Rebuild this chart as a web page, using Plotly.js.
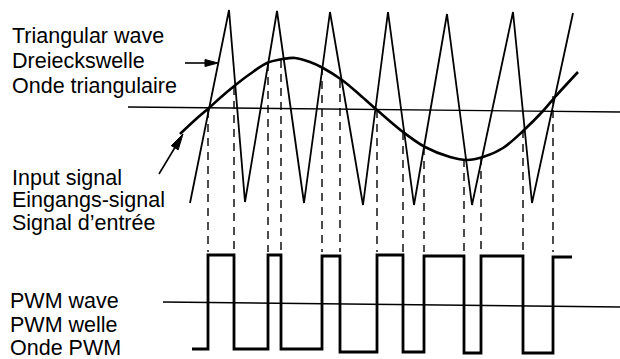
<!DOCTYPE html>
<html>
<head>
<meta charset="utf-8">
<script src="https://cdn.plot.ly/plotly-3.0.1.min.js"></script>
<style>html,body{margin:0;padding:0;background:#fff;}#chart{width:620px;height:359px;}</style>
</head>
<body>
<div id="chart"></div>
<script>
// Triangular carrier wave (vertices)
const triX = [190, 229, 245, 277, 304, 330, 363, 388, 414, 447, 472, 513, 532, 573];
const triY = [203, 10, 202, 11, 203, 12, 205, 12, 205, 14, 205, 12, 203, 13];

// Input (sine-like) signal, read point by point
const sigX = [180, 195, 209, 220, 233, 250, 267, 283, 295, 310, 323, 342, 360, 377, 403, 425, 450, 467, 483, 503, 523, 543, 555, 578];
const sigY = [134, 120, 108, 98, 87, 74, 63, 59, 58, 62, 68, 80, 95, 110, 132, 147, 157, 160, 157, 148, 131, 111, 97, 72];

// Crossing points of signal and carrier (switching instants)
const crossX = [208, 234, 268, 281, 322, 340, 377, 403, 424, 464, 481, 523, 553];
const crossY = [110, 87, 63, 60, 67, 80, 110, 132, 147, 159, 157, 130, 96];

// PWM output: start/end and level of each segment (low, high, low, ...)
const pwmStart = 192, pwmEnd = 572;
const pwmLevels = [349, 255, 349, 255, 349, 256, 352, 255, 352, 256, 353, 256, 353, 257];
const dashBottom = 252;

// Reference (zero) lines
const zeroTopX = [128, 620], zeroTopY = [107, 112];
const zeroBotX = [163, 620], zeroBotY = [302, 307];

// Text labels
const labelsTri = ["Triangular wave", "Dreieckswelle", "Onde triangulaire"];
const labelsSig = ["Input signal", "Eingangs-signal", "Signal d\u2019entrée"];
const labelsPwm = ["PWM wave", "PWM welle", "Onde PWM"];
const baseTri = [43, 68, 93];
const baseSig = [185, 207, 230];
const basePwm = [308, 332, 355];

// Arrows: tail -> tip
const arrows = [
  {tail: [185, 63], tip: [218, 63], len: 13, half: 3.5},
  {tail: [159, 174], tip: [183, 134], len: 16, half: 4}
];

const K = '#000';
const traces = [];

traces.push({x: zeroTopX, y: zeroTopY, mode: 'lines', line: {color: K, width: 1.4}, hoverinfo: 'skip'});
traces.push({x: zeroBotX, y: zeroBotY, mode: 'lines', line: {color: K, width: 1.4}, hoverinfo: 'skip'});

// dashed verticals
const dx = [], dy = [];
crossX.forEach((x, i) => { dx.push(x, x, null); dy.push(crossY[i], dashBottom, null); });
traces.push({x: dx, y: dy, mode: 'lines', line: {color: K, width: 1.4, dash: '8px,6px'}, hoverinfo: 'skip'});

traces.push({x: triX, y: triY, mode: 'lines', line: {color: K, width: 1.8}, hoverinfo: 'skip'});
traces.push({x: sigX, y: sigY, mode: 'lines', line: {color: K, width: 2.6, shape: 'spline', smoothing: 1}, hoverinfo: 'skip'});

// PWM step wave
const edges = [pwmStart].concat(crossX, [pwmEnd]);
const px = [], py = [];
for (let i = 0; i < pwmLevels.length; i++) {
  px.push(edges[i], edges[i + 1]);
  py.push(pwmLevels[i], pwmLevels[i]);
}
traces.push({x: px, y: py, mode: 'lines', line: {color: K, width: 2.8}, hoverinfo: 'skip'});

// arrows
arrows.forEach(a => {
  const vx = a.tip[0] - a.tail[0], vy = a.tip[1] - a.tail[1];
  const d = Math.hypot(vx, vy), ux = vx / d, uy = vy / d;
  const bx = a.tip[0] - ux * a.len, by = a.tip[1] - uy * a.len;
  traces.push({x: [a.tail[0], bx], y: [a.tail[1], by], mode: 'lines', line: {color: K, width: 1.6}, hoverinfo: 'skip'});
  traces.push({
    x: [a.tip[0], bx - uy * a.half, bx + uy * a.half, a.tip[0]],
    y: [a.tip[1], by + ux * a.half, by - ux * a.half, a.tip[1]],
    mode: 'lines', fill: 'toself', fillcolor: K, line: {color: K, width: 1}, hoverinfo: 'skip'
  });
});

const font = {family: 'Liberation Sans, Arial, Helvetica, sans-serif', size: 21.5, color: '#000'};
const ann = [];
function addLabels(list, bases, x0) {
  list.forEach((t, i) => ann.push({
    x: x0, y: bases[i] - 7.3, xref: 'x', yref: 'y', text: t, showarrow: false,
    xanchor: 'left', yanchor: 'middle', font: font, borderpad: 0
  }));
}
addLabels(labelsTri, baseTri, 11);
addLabels(labelsSig, baseSig, 11);
addLabels(labelsPwm, basePwm, 9);

const layout = {
  width: 620, height: 359,
  margin: {l: 0, r: 0, t: 0, b: 0, pad: 0},
  paper_bgcolor: '#fff', plot_bgcolor: '#fff',
  showlegend: false,
  xaxis: {range: [0, 620], visible: false, fixedrange: true},
  yaxis: {range: [359, 0], visible: false, fixedrange: true},
  annotations: ann
};

Plotly.newPlot('chart', traces, layout, {staticPlot: true, displayModeBar: false});
</script>
</body>
</html>
